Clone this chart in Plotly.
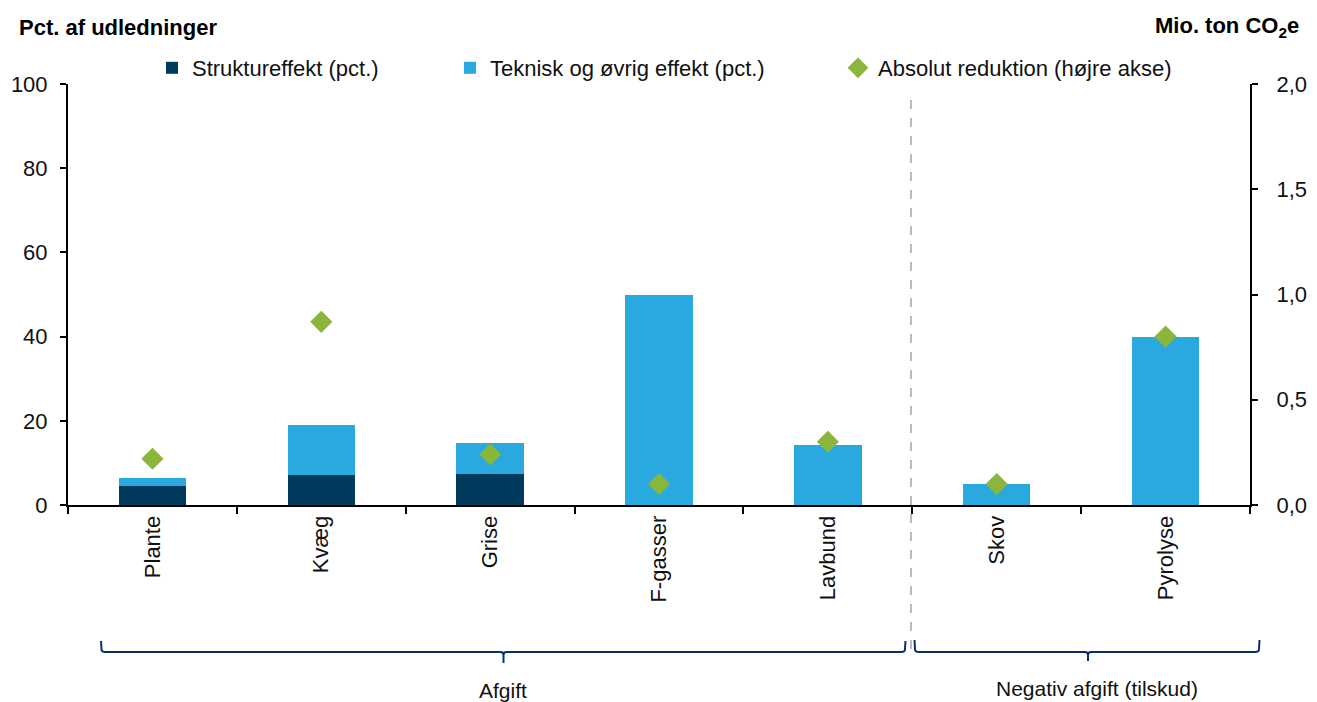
import plotly.graph_objects as go

# ---- data ----
categories = ["Plante", "Kvæg", "Grise", "F-gasser", "Lavbund", "Skov", "Pyrolyse"]
struktur = [4.4, 7.1, 7.4, None, None, None, None]
teknisk = [2.0, 11.9, 7.25, 50.0, 14.3, 4.9, 40.0]
absolut = [0.22, 0.87, 0.24, 0.10, 0.30, 0.10, 0.80]
left_ticks = [0, 20, 40, 60, 80, 100]
right_ticks = [0.0, 0.5, 1.0, 1.5, 2.0]
groups = ["Afgift", "Negativ afgift (tilskud)"]

NAVY = "#003A5C"
BLUE = "#2AA9E0"
GREEN = "#8AB63C"
BRACKET = "#0B2D6E"
FONT = "Liberation Sans, Arial, sans-serif"

# page offset introduced by the default body margin
OFF = 8
PAGE_W, PAGE_H = 1317, 702
W, H = PAGE_W - OFF, PAGE_H - OFF
# plot area in page pixels
X0, X1, Y0, Y1 = 68, 1250, 84, 505
L, R, T, B = X0 - OFF, PAGE_W - X1, Y0 - OFF, PAGE_H - Y1
PW, PH = X1 - X0, Y1 - Y0


def px(x):
    return (x - X0) / PW


def py(y):
    return (Y1 - y) / PH


fig = go.Figure()
fig.add_trace(go.Bar(x=categories, y=struktur, name="Struktureffekt (pct.)",
                     marker=dict(color=NAVY, line=dict(width=0)), legend="legend",
                     showlegend=True))
fig.add_trace(go.Bar(x=categories, y=teknisk, name="Teknisk og øvrig effekt (pct.)",
                     marker=dict(color=BLUE, line=dict(width=0)), legend="legend2",
                     showlegend=True))
fig.add_trace(go.Scatter(x=categories, y=absolut, name="Absolut reduktion (højre akse)",
                         mode="markers", yaxis="y2",
                         marker=dict(symbol="diamond", size=17, color=GREEN),
                         legend="legend3", showlegend=True))

legend_common = dict(orientation="h", yanchor="middle", y=py(68), xanchor="left",
                     bgcolor="rgba(0,0,0,0)", font=dict(size=22, color="#111"))

shapes = []
# dashed separator
shapes.append(dict(type="line", xref="paper", yref="paper", x0=px(911), x1=px(911),
                   y0=py(100), y1=py(656), line=dict(color="#A6A6A6", width=1.5, dash="dash")))


def bracket(x0, x1, xc, ytop, yh, ytip):
    path = (f"M {px(x0)},{py(ytop)} L {px(x0)+0.0005},{py(yh-2)} Q {px(x0)+0.001},{py(yh)} {px(x0+4)},{py(yh)} "
            f"L {px(xc-3)},{py(yh)} Q {px(xc)},{py(yh)} {px(xc)},{py(yh+3)} L {px(xc)},{py(ytip)} "
            f"M {px(xc)},{py(yh+3)} Q {px(xc)},{py(yh)} {px(xc+3)},{py(yh)} "
            f"L {px(x1-4)},{py(yh)} Q {px(x1)-0.001},{py(yh)} {px(x1)-0.0005},{py(yh-2)} L {px(x1)},{py(ytop)}")
    return dict(type="path", xref="paper", yref="paper", path=path,
                line=dict(color=BRACKET, width=2))


shapes.append(bracket(101, 905.5, 503.5, 641, 652, 663))
shapes.append(bracket(914.5, 1259.5, 1088, 640, 652, 661))

annotations = [
    dict(text="<b>Pct. af udledninger</b>", xref="paper", yref="paper", x=px(17), y=py(27),
         xanchor="left", yanchor="middle", showarrow=False, font=dict(size=22, color="#000")),
    dict(text="<b>Mio. ton CO<sub>2</sub>e</b>", xref="paper", yref="paper", x=px(1301), y=py(27),
         xanchor="right", yanchor="middle", showarrow=False, font=dict(size=22, color="#000")),
    dict(text=groups[0], xref="paper", yref="paper", x=px(503), y=py(690),
         xanchor="center", yanchor="middle", showarrow=False, font=dict(size=21, color="#111")),
    dict(text=groups[1], xref="paper", yref="paper", x=px(1097), y=py(688),
         xanchor="center", yanchor="middle", showarrow=False, font=dict(size=21, color="#111")),
]

fig.update_layout(
    width=W, height=H, autosize=False,
    margin=dict(l=L, r=R, t=T, b=B, pad=0, autoexpand=False),
    paper_bgcolor="white", plot_bgcolor="white",
    font=dict(family=FONT, size=22, color="#111"),
    showlegend=True,
    barmode="stack", bargap=0.6,
    separators=",.",
    legend=dict(legend_common, x=px(152)),
    legend2=dict(legend_common, x=px(450)),
    legend3=dict(legend_common, x=px(838)),
    xaxis=dict(type="category", range=[-0.5, 6.5], showline=True, linecolor="#000", linewidth=2,
               ticks="outside", tickson="boundaries", ticklen=7, tickwidth=2, tickcolor="#000",
               tickangle=-90, tickfont=dict(size=22), showgrid=False, zeroline=False,
               automargin=False),
    yaxis=dict(range=[0, 100], tickvals=left_ticks, showline=True, linecolor="#000", linewidth=2,
               ticks="outside", ticklen=6, tickwidth=2, tickcolor="#000", showgrid=False,
               zeroline=False, tickfont=dict(size=22), ticklabelstandoff=8, automargin=False),
    yaxis2=dict(range=[0, 2], tickvals=right_ticks, tickformat=".1f", overlaying="y", side="right",
                showline=True, linecolor="#000", linewidth=2, ticks="outside", ticklen=6, tickwidth=2,
                tickcolor="#000", showgrid=False, zeroline=False, tickfont=dict(size=22),
                ticklabelstandoff=14, automargin=False),
    shapes=shapes,
    annotations=annotations,
)

fig.write_html("out.html")
